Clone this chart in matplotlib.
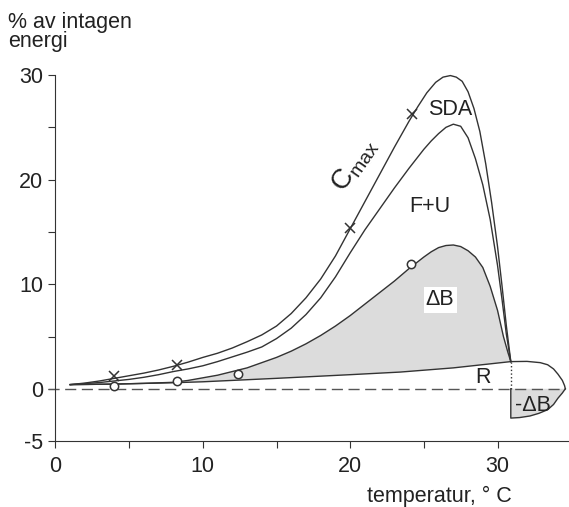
import matplotlib
matplotlib.use("Agg")
import matplotlib.pyplot as plt
import numpy as np

plt.rcParams['font.family'] = ['Liberation Sans', 'DejaVu Sans']

# Cmax curve (total consumption)
cmax_x = [1, 2, 3, 4, 5, 6, 7, 8, 9, 10, 11, 12, 13, 14, 15, 16, 17, 18, 19, 20, 21, 22, 23, 24,
          24.6, 25.2, 25.8, 26.3, 26.8, 27.2, 27.6, 28.0, 28.4, 28.8, 29.2, 29.6, 30.0, 30.3, 30.6, 30.9]
cmax_y = [0.4, 0.55, 0.75, 1.0, 1.25, 1.5, 1.8, 2.15, 2.55, 3.0, 3.4, 3.9, 4.5, 5.15, 6.0, 7.2, 8.7, 10.5, 12.7, 15.3, 17.9, 20.5, 23.1, 25.6,
          27.0, 28.3, 29.3, 29.8, 29.95, 29.8, 29.4, 28.4, 26.8, 24.6, 21.5, 17.8, 13.6, 9.9, 6.0, 2.6]

# Cmax - SDA (upper edge of F+U)
fu_x = [1, 2, 3, 4, 5, 6, 7, 8, 9, 10, 11, 12, 13, 14, 15, 16, 17, 18, 19, 20, 21, 22, 23, 24,
        25.0, 25.5, 26.0, 26.5, 27.0, 27.5, 28.0, 28.5, 29.0, 29.5, 30.0, 30.3, 30.6, 30.9]
fu_y = [0.4, 0.5, 0.6, 0.75, 0.9, 1.1, 1.35, 1.65, 1.9, 2.2, 2.6, 3.05, 3.5, 4.0, 4.8, 5.8, 7.1, 8.7, 10.7, 13.0, 15.2, 17.2, 19.2, 21.1,
        22.9, 23.7, 24.4, 25.0, 25.3, 25.1, 24.0, 22.0, 19.5, 16.2, 11.8, 8.6, 5.2, 2.6]

# R + dB (upper edge of growth)
db_x = [1, 4, 6, 8, 9, 10, 11, 12, 13, 14, 15, 16, 17, 18, 19, 20, 21, 22, 23, 24, 25, 25.5, 26.0, 26.5,
        27.0, 27.5, 28.0, 28.5, 29.0, 29.5, 30.0, 30.4, 30.7, 30.9]
db_y = [0.4, 0.45, 0.52, 0.62, 0.8, 1.05, 1.3, 1.65, 2.0, 2.5, 3.0, 3.6, 4.3, 5.1, 6.0, 7.0, 8.1, 9.2, 10.3, 11.5, 12.6, 13.1, 13.5, 13.7,
        13.75, 13.6, 13.2, 12.6, 11.6, 9.8, 7.5, 5.0, 3.5, 2.6]

# Respiration R
r_x = [1, 4, 8, 10, 15, 20, 23.4, 27, 30.9, 32.0, 32.9, 33.4, 33.8, 34.1, 34.4, 34.55, 34.6]
r_y = [0.4, 0.45, 0.58, 0.67, 1.0, 1.35, 1.6, 2.0, 2.6, 2.62, 2.5, 2.3, 1.9, 1.4, 0.8, 0.3, 0.0]

# negative growth region (-dB)
neg_x = [30.9, 30.9, 31.5, 32.2, 32.8, 33.4, 33.8, 34.1, 34.4, 34.6]
neg_y = [0.0, -2.8, -2.75, -2.6, -2.35, -2.0, -1.5, -0.9, -0.4, 0.0]

# markers
cross_x = [4.0, 8.25, 20.0, 24.2]
cross_y = [1.2, 2.3, 15.4, 26.3]
circ_x = [4.0, 8.25, 12.4, 24.1]
circ_y = [0.3, 0.7, 1.4, 11.9]

fig = plt.figure(figsize=(5.69, 5.07), dpi=100)
ax = fig.add_axes([0.0975, 0.130, 0.9025, 0.722])
ax.set_xlim(0, 34.85)
ax.set_ylim(-5, 30)

lc = '#333333'
tc = '#222222'
fillc = '#dcdcdc'

# shaded growth region between R and dB curve
r_arr_x = np.array(r_x, dtype=float)
r_arr_y = np.array(r_y, dtype=float)
mask = r_arr_x <= 30.9
poly_x = np.concatenate([db_x, r_arr_x[mask][::-1]])
poly_y = np.concatenate([db_y, r_arr_y[mask][::-1]])
ax.fill(poly_x, poly_y, color=fillc, lw=0, zorder=1)

# negative growth
ax.fill(neg_x, neg_y, color=fillc, lw=0, zorder=1)
ax.plot(neg_x, neg_y, color=lc, lw=1.0, zorder=3)

ax.plot(cmax_x, cmax_y, color=lc, lw=1.0, clip_on=False, zorder=3)
ax.plot(fu_x, fu_y, color=lc, lw=1.0, zorder=3)
ax.plot(db_x, db_y, color=lc, lw=1.0, zorder=3)
ax.plot(r_x, r_y, color=lc, lw=1.0, zorder=3)

# zero line
ax.plot([-0.5, 34.6], [0, 0], color='#555555', lw=1.0, dashes=(8, 4), zorder=2, clip_on=False)
# dotted vertical
ax.plot([30.9, 30.9], [0, 2.6], color=lc, lw=1.0, ls=':', zorder=3)

ax.plot(cross_x, cross_y, ls='none', marker='x', ms=7, mew=1.1, color=lc, zorder=4)
ax.plot(circ_x, circ_y, ls='none', marker='o', ms=6, mew=1.1, mfc='white', mec=lc, zorder=4)

fs = 15.5
ax.text(26.8, 26.7, 'SDA', fontsize=fs, ha='center', va='center', color=tc)
ax.text(25.4, 17.4, 'F+U', fontsize=fs, ha='center', va='center', color=tc)
ax.text(26.1, 8.5, 'ΔB', fontsize=fs, ha='center', va='center', color=tc,
        bbox=dict(facecolor='white', edgecolor='none', pad=1.5), zorder=5)
ax.text(29.0, 1.1, 'R', fontsize=fs, ha='center', va='center', color=tc)
ax.text(32.4, -1.6, '-ΔB', fontsize=fs, ha='center', va='center', color=tc, zorder=5)
ax.text(20.3, 21.4, r'$\mathregular{C_{max}}$', fontsize=20, ha='center', va='center',
        rotation=55, rotation_mode='anchor', color=tc)

for s in ['top', 'right']:
    ax.spines[s].set_visible(False)
ax.spines['left'].set_bounds(-5, 30)
ax.spines['left'].set_color(lc)
ax.spines['bottom'].set_color(lc)

ax.set_xticks([0, 5, 10, 15, 20, 25, 30])
ax.set_xticklabels(['0', '', '10', '', '20', '', '30'])
ax.set_yticks([-5, 0, 5, 10, 15, 20, 25, 30])
ax.set_yticklabels(['-5', '0', '', '10', '', '20', '', '30'])
ax.tick_params(axis='x', length=5, pad=6, labelsize=fs, color=lc, labelcolor=tc)
ax.tick_params(axis='y', length=5, pad=4, labelsize=fs, color=lc, labelcolor=tc)

fig.text(8 / 569, 1 - 12 / 507, '% av intagen\nenergi', fontsize=fs, ha='left', va='top',
         linespacing=0.9, color=tc)
fig.text(512 / 569, 5 / 507, 'temperatur, ° C', fontsize=fs, ha='right', va='baseline',
         color=tc)

fig.savefig('out.png', dpi=100)
